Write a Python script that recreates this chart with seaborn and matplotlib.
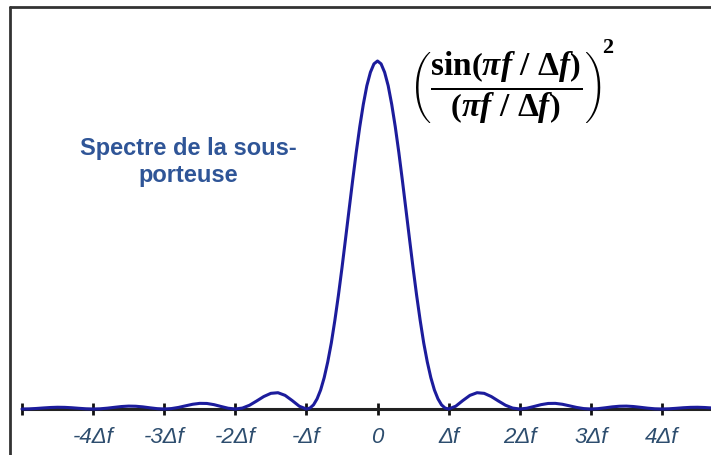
import matplotlib
matplotlib.use("Agg")
import matplotlib.pyplot as plt
import seaborn as sns
from matplotlib.lines import Line2D

# ---- data (x in units of Δf, y = normalized power) ----
freq = [-5.0, -4.9, -4.8, -4.7, -4.6, -4.5, -4.4, -4.3, -4.2, -4.1,
        -4.0, -3.9, -3.8, -3.7, -3.6, -3.5, -3.4, -3.3, -3.2, -3.1,
        -3.0, -2.9, -2.8, -2.7, -2.6, -2.5, -2.4, -2.3, -2.2, -2.1,
        -2.0, -1.9, -1.8, -1.7, -1.6, -1.5, -1.4, -1.3, -1.2, -1.1,
        -1.0, -0.95, -0.9, -0.85, -0.8, -0.75, -0.7, -0.65, -0.6, -0.55,
        -0.5, -0.45, -0.4, -0.35, -0.3, -0.25, -0.2, -0.15, -0.1, -0.05,
        0.0, 0.05, 0.1, 0.15, 0.2, 0.25, 0.3, 0.35, 0.4, 0.45,
        0.5, 0.55, 0.6, 0.65, 0.7, 0.75, 0.8, 0.85, 0.9, 0.95,
        1.0, 1.1, 1.2, 1.3, 1.4, 1.5, 1.6, 1.7, 1.8, 1.9,
        2.0, 2.1, 2.2, 2.3, 2.4, 2.5, 2.6, 2.7, 2.8, 2.9,
        3.0, 3.1, 3.2, 3.3, 3.4, 3.5, 3.6, 3.7, 3.8, 3.9,
        4.0, 4.1, 4.2, 4.3, 4.4, 4.5, 4.6, 4.7]
power = [0.0, 0.0004, 0.0015, 0.0030, 0.0043, 0.0050, 0.0047, 0.0036, 0.0020, 0.0006,
         0.0, 0.0006, 0.0024, 0.0048, 0.0071, 0.0083, 0.0079, 0.0061, 0.0034, 0.0010,
         0.0, 0.0012, 0.0045, 0.0091, 0.0136, 0.0162, 0.0159, 0.0125, 0.0072, 0.0022,
         0.0, 0.0027, 0.0108, 0.0230, 0.0358, 0.0450, 0.0468, 0.0392, 0.0243, 0.0080,
         0.0, 0.0028, 0.0119, 0.0292, 0.0547, 0.0901, 0.1353, 0.1895, 0.2546, 0.3267,
         0.4053, 0.4885, 0.5728, 0.6564, 0.7368, 0.8106, 0.8751, 0.9290, 0.9675, 0.9918,
         1.0, 0.9918, 0.9675, 0.9290, 0.8751, 0.8106, 0.7368, 0.6564, 0.5728, 0.4885,
         0.4053, 0.3267, 0.2546, 0.1895, 0.1353, 0.0901, 0.0547, 0.0292, 0.0119, 0.0028,
         0.0, 0.0080, 0.0243, 0.0392, 0.0468, 0.0450, 0.0358, 0.0230, 0.0108, 0.0027,
         0.0, 0.0022, 0.0072, 0.0125, 0.0159, 0.0162, 0.0136, 0.0091, 0.0045, 0.0012,
         0.0, 0.0010, 0.0034, 0.0061, 0.0079, 0.0083, 0.0071, 0.0048, 0.0024, 0.0006,
         0.0, 0.0006, 0.0020, 0.0036, 0.0047, 0.0050, 0.0043, 0.0030]
tick_pos = [-5, -4, -3, -2, -1, 0, 1, 2, 3, 4]
tick_labels = ["", "-4\u0394f", "-3\u0394f", "-2\u0394f", "-\u0394f", "0",
               "\u0394f", "2\u0394f", "3\u0394f", "4\u0394f"]
label_text = "Spectre de la sous-\nporteuse"
formula = (r"$\left(\dfrac{\mathbf{sin}\left(\pi f\ /\ \Delta f\right)}"
           r"{\left(\pi f\ /\ \Delta f\right)}\right)$")
exponent = "2"

sns.set_style("white")
plt.rcParams["mathtext.fontset"] = "custom"
plt.rcParams["mathtext.rm"] = "Liberation Serif:bold"
plt.rcParams["mathtext.bf"] = "Liberation Serif:bold"
plt.rcParams["mathtext.it"] = "Liberation Serif:bold:italic"
plt.rcParams["font.family"] = ["Liberation Sans", "DejaVu Sans"]

W, H = 711, 456
fig = plt.figure(figsize=(W / 100, H / 100), dpi=100)
base_y = 410
ax = fig.add_axes([22 / W, (H - base_y) / H, (W - 22) / W, base_y / H])

sns.lineplot(x=freq, y=power, ax=ax, color="#1c1c9c", linewidth=2.2,
             clip_on=False, zorder=5)

ax.set_xlim(-5.0, (W - 378) / 71.0)
ax.set_ylim(0, base_y / 348.0)
ax.set_xticks(tick_pos)
ax.set_xticklabels(tick_labels, fontstyle="italic", fontsize=16, color="#2d4d6e")
ax.set_yticks([])
ax.tick_params(axis="x", bottom=True, direction="inout", length=9, width=2,
               color="#111111", pad=8)
for s in ["top", "right", "left"]:
    ax.spines[s].set_visible(False)
ax.spines["bottom"].set_color("#222222")
ax.spines["bottom"].set_linewidth(2.2)
ax.patch.set_alpha(0)

ax.text((188 - 22) / (W - 22), (base_y - 162) / base_y, label_text,
        transform=ax.transAxes, ha="center", va="center", fontsize=17,
        fontweight="bold", color="#2f5597", linespacing=1.2)

ax.text((506 - 22) / (W - 22), (base_y - 88) / base_y, formula,
        transform=ax.transAxes, ha="center", va="center", fontsize=24, color="black")
ax.text((602 - 22) / (W - 22), (base_y - 48) / base_y, exponent,
        transform=ax.transAxes, ha="left", va="center", fontsize=16,
        fontweight="bold", family="Liberation Serif", color="black")

# outer frame
fig.add_artist(Line2D([10 / W, 1.0], [1 - 8 / H, 1 - 8 / H], transform=fig.transFigure,
                      color="#333333", linewidth=2))
fig.add_artist(Line2D([10 / W, 10 / W], [0, 1 - 8 / H], transform=fig.transFigure,
                      color="#333333", linewidth=2))

fig.savefig("out.png", dpi=100)
